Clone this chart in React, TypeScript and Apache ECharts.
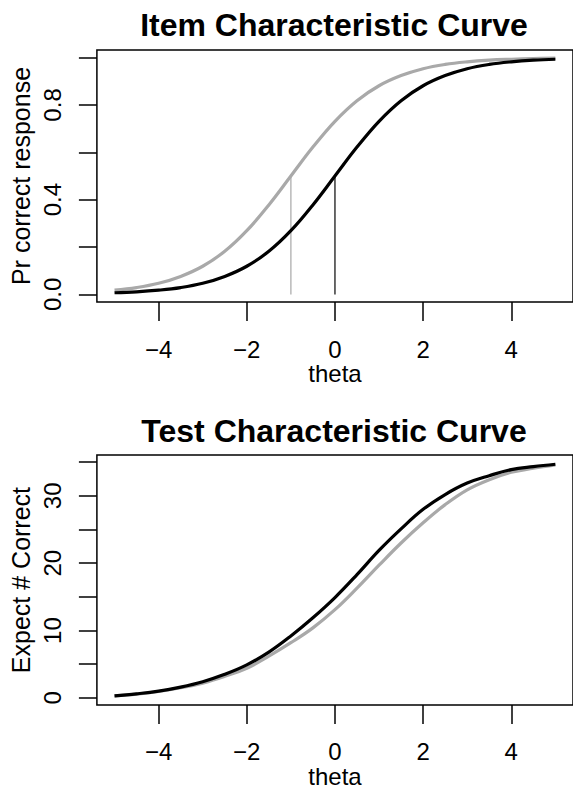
import React, { useEffect, useRef } from "react";
import * as echarts from "echarts";

const theta = [-5, -4.5, -4, -3.5, -3, -2.5, -2, -1.5, -1, -0.5, 0, 0.5, 1, 1.5, 2, 2.5, 3, 3.5, 4, 4.5, 5];

// Item characteristic curves
const iccBlack = [0.007, 0.011, 0.018, 0.029, 0.047, 0.076, 0.119, 0.182, 0.269, 0.378, 0.5, 0.622, 0.731, 0.818, 0.881, 0.924, 0.953, 0.971, 0.982, 0.989, 0.993];
const iccGray = [0.018, 0.029, 0.047, 0.076, 0.119, 0.182, 0.269, 0.378, 0.5, 0.622, 0.731, 0.818, 0.881, 0.924, 0.953, 0.971, 0.982, 0.989, 0.993, 0.996, 0.998];

// Reference drops at item difficulty
const dropTheta = [-1, 0];
const dropProb = [0.5, 0.5];

// Test characteristic curves
const tccBlack = [0.3, 0.6, 1.0, 1.6, 2.4, 3.5, 4.9, 6.8, 9.2, 11.9, 14.9, 18.3, 21.9, 25.1, 28.0, 30.2, 31.9, 33.0, 33.9, 34.35, 34.7];
const tccGray = [0.3, 0.55, 0.95, 1.5, 2.2, 3.2, 4.4, 6.2, 8.2, 10.4, 13.1, 16.3, 19.7, 23.0, 26.0, 28.7, 30.9, 32.4, 33.5, 34.1, 34.6];

const xTicks = [-4, -2, 0, 2, 4];
const iccYTicks = [0, 0.2, 0.4, 0.6, 0.8, 1.0];
const iccYLabels = [0, 0.4, 0.8];
const tccYTicks = [0, 5, 10, 15, 20, 25, 30, 35];
const tccYLabels = [0, 10, 20, 30];

const titles = ["Item Characteristic Curve", "Test Characteristic Curve"];
const xName = "theta";
const yNames = ["Pr correct response", "Expect # Correct"];

const FONT = "'Liberation Sans', Arial, Helvetica, sans-serif";

export default function App() {
  const ref = useRef<HTMLDivElement>(null);
  useEffect(() => {
    if (!ref.current) return;
    const chart = echarts.init(ref.current, undefined, { renderer: "svg" });
    const pairs = (ys: number[]) => theta.map((t, i) => [t, ys[i]]);
    const xAxisBase = (gridIndex: number, gap: number, margin: number) => ({
      type: "value",
      gridIndex,
      min: -5.4,
      max: 5.4,
      name: xName,
      nameLocation: "middle",
      nameGap: gap,
      nameTextStyle: { fontFamily: FONT, fontSize: 24, color: "#000" },
      axisLine: { show: false, onZero: false },
      splitLine: { show: false },
      axisTick: { show: true, inside: false, length: 19, customValues: xTicks, lineStyle: { color: "#000", width: 1.5 } },
      axisLabel: {
        customValues: xTicks,
        margin,
        fontFamily: FONT,
        fontSize: 24,
        color: "#000",
        formatter: (v: number) => (v < 0 ? "\u2212" + Math.abs(v) : String(v)),
      },
    });
    const yAxisBase = (gridIndex: number, min: number, max: number, ticks: number[], labels: number[], name: string, fmt: (v: number) => string) => ({
      type: "value",
      gridIndex,
      min,
      max,
      name,
      nameLocation: "middle",
      nameGap: 58,
      nameRotate: 90,
      nameTextStyle: { fontFamily: FONT, fontSize: 25, color: "#000" },
      axisLine: { show: false, onZero: false },
      splitLine: { show: false },
      axisTick: { show: true, inside: false, length: 18, customValues: ticks, lineStyle: { color: "#000", width: 1.5 } },
      axisLabel: {
        customValues: labels,
        rotate: 90,
        margin: 32,
        fontFamily: FONT,
        fontSize: 24,
        color: "#000",
        formatter: fmt,
      },
    });
    const lineSeries = (xi: number, data: number[][], color: string, width: number, smooth: boolean | number) => ({
      type: "line",
      xAxisIndex: xi,
      yAxisIndex: xi,
      data,
      smooth,
      showSymbol: false,
      symbol: "none",
      lineStyle: { color, width },
      silent: true,
      z: 3,
    });
    chart.setOption({
      animation: false,
      backgroundColor: "#fff",
      title: [
        {
          text: titles[0],
          left: 334,
          textAlign: "center",
          top: 9,
          padding: 0,
          textStyle: { fontFamily: FONT, fontSize: 32, fontWeight: "bold", color: "#000" },
        },
        {
          text: titles[1],
          left: 334,
          textAlign: "center",
          top: 415,
          padding: 0,
          textStyle: { fontFamily: FONT, fontSize: 32, fontWeight: "bold", color: "#000" },
        },
      ],
      grid: [
        { left: 91, top: 50, width: 486, height: 252, show: true, borderColor: "#000", borderWidth: 1.5, backgroundColor: "transparent" },
        { left: 91, top: 455, width: 486, height: 253, show: true, borderColor: "#000", borderWidth: 1.5, backgroundColor: "transparent" },
      ],
      xAxis: [xAxisBase(0, 57, 35), xAxisBase(1, 56, 34)],
      yAxis: [
        yAxisBase(0, -0.032, 1.032, iccYTicks, iccYLabels, yNames[0], (v: number) => v.toFixed(1)),
        yAxisBase(1, -1.07, 36.07, tccYTicks, tccYLabels, yNames[1], (v: number) => String(v)),
      ],
      series: [
        ...dropTheta.map((t, i) => ({
          ...lineSeries(0, [[t, 0], [t, dropProb[i]]], i === 0 ? "#bdbdbd" : "#444444", 1.6, false),
          z: 2,
        })),
        lineSeries(0, pairs(iccGray), "#a9a9a9", 3.2, 0.4),
        lineSeries(0, pairs(iccBlack), "#000000", 3.2, 0.4),
        lineSeries(1, pairs(tccGray), "#a9a9a9", 3.2, 0.4),
        lineSeries(1, pairs(tccBlack), "#000000", 3.2, 0.4),
      ],
    });
    return () => chart.dispose();
  }, []);
  return (
    <div
      ref={ref}
      style={{ position: "fixed", left: 0, top: 0, width: 573, height: 789, background: "#fff" }}
    />
  );
}
